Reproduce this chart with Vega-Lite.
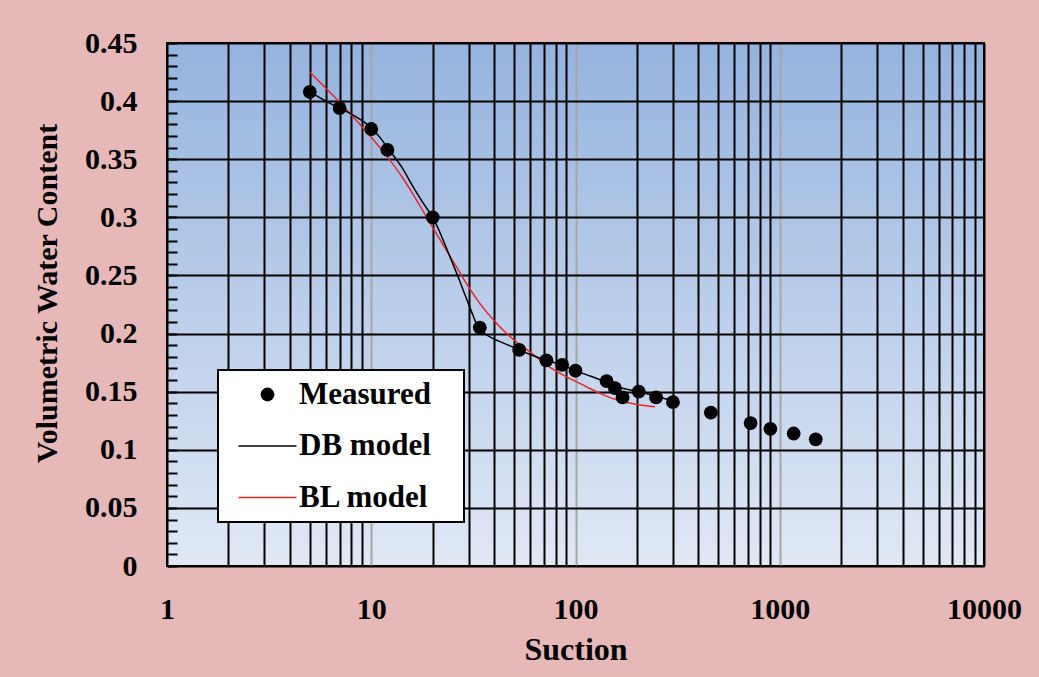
{
  "$schema": "https://vega.github.io/schema/vega-lite/v6.json",
  "width": 817,
  "height": 523,
  "autosize": "none",
  "padding": {"left": 167, "top": 43, "right": 55, "bottom": 111},
  "background": "#e6b8b7",
  "view": {
    "fill": {"gradient": "linear", "x1": 0, "y1": 0, "x2": 0, "y2": 1, "stops": [{"offset": 0, "color": "#95b3de"}, {"offset": 1, "color": "#e0e8f5"}]},
    "stroke": "black",
    "strokeWidth": 2
  },
  "config": {
    "font": "Liberation Serif",
    "axis": {"labelFont": "Liberation Serif", "titleFont": "Liberation Serif", "labelFontWeight": "bold", "titleFontWeight": "bold", "labelColor": "black", "titleColor": "black"}
  },
  "data": {"values": [
    {"series": "Measured", "x": 5, "y": 0.408},
    {"series": "Measured", "x": 7, "y": 0.394},
    {"series": "Measured", "x": 10, "y": 0.376},
    {"series": "Measured", "x": 12, "y": 0.358},
    {"series": "Measured", "x": 20, "y": 0.300},
    {"series": "Measured", "x": 34, "y": 0.205},
    {"series": "Measured", "x": 53, "y": 0.186},
    {"series": "Measured", "x": 72, "y": 0.177},
    {"series": "Measured", "x": 86, "y": 0.173},
    {"series": "Measured", "x": 100, "y": 0.168},
    {"series": "Measured", "x": 142, "y": 0.159},
    {"series": "Measured", "x": 156, "y": 0.153},
    {"series": "Measured", "x": 170, "y": 0.145},
    {"series": "Measured", "x": 204, "y": 0.150},
    {"series": "Measured", "x": 248, "y": 0.145},
    {"series": "Measured", "x": 300, "y": 0.141},
    {"series": "Measured", "x": 460, "y": 0.132},
    {"series": "Measured", "x": 720, "y": 0.123},
    {"series": "Measured", "x": 900, "y": 0.118},
    {"series": "Measured", "x": 1170, "y": 0.114},
    {"series": "Measured", "x": 1500, "y": 0.109},
    {"series": "DB model", "x": 5, "y": 0.408},
    {"series": "DB model", "x": 6, "y": 0.400},
    {"series": "DB model", "x": 7, "y": 0.394},
    {"series": "DB model", "x": 8.5, "y": 0.386},
    {"series": "DB model", "x": 10, "y": 0.377},
    {"series": "DB model", "x": 11, "y": 0.369},
    {"series": "DB model", "x": 12, "y": 0.360},
    {"series": "DB model", "x": 14, "y": 0.344},
    {"series": "DB model", "x": 16.2, "y": 0.325},
    {"series": "DB model", "x": 18, "y": 0.312},
    {"series": "DB model", "x": 20, "y": 0.300},
    {"series": "DB model", "x": 24.3, "y": 0.266},
    {"series": "DB model", "x": 27, "y": 0.246},
    {"series": "DB model", "x": 29.4, "y": 0.229},
    {"series": "DB model", "x": 31.1, "y": 0.218},
    {"series": "DB model", "x": 33, "y": 0.207},
    {"series": "DB model", "x": 36, "y": 0.200},
    {"series": "DB model", "x": 42.7, "y": 0.193},
    {"series": "DB model", "x": 49.3, "y": 0.1885},
    {"series": "DB model", "x": 53, "y": 0.186},
    {"series": "DB model", "x": 60, "y": 0.182},
    {"series": "DB model", "x": 72, "y": 0.177},
    {"series": "DB model", "x": 86, "y": 0.173},
    {"series": "DB model", "x": 100, "y": 0.168},
    {"series": "DB model", "x": 120, "y": 0.163},
    {"series": "DB model", "x": 142, "y": 0.158},
    {"series": "DB model", "x": 170, "y": 0.153},
    {"series": "DB model", "x": 204, "y": 0.150},
    {"series": "DB model", "x": 250, "y": 0.146},
    {"series": "DB model", "x": 300, "y": 0.142},
    {"series": "BL model", "x": 5, "y": 0.425},
    {"series": "BL model", "x": 6, "y": 0.411},
    {"series": "BL model", "x": 7, "y": 0.399},
    {"series": "BL model", "x": 8, "y": 0.388},
    {"series": "BL model", "x": 9, "y": 0.378},
    {"series": "BL model", "x": 10, "y": 0.369},
    {"series": "BL model", "x": 12, "y": 0.352},
    {"series": "BL model", "x": 14, "y": 0.336},
    {"series": "BL model", "x": 16, "y": 0.320},
    {"series": "BL model", "x": 18.7, "y": 0.300},
    {"series": "BL model", "x": 22, "y": 0.279},
    {"series": "BL model", "x": 26, "y": 0.258},
    {"series": "BL model", "x": 30, "y": 0.240},
    {"series": "BL model", "x": 34, "y": 0.226},
    {"series": "BL model", "x": 40, "y": 0.211},
    {"series": "BL model", "x": 46, "y": 0.200},
    {"series": "BL model", "x": 52, "y": 0.192},
    {"series": "BL model", "x": 60, "y": 0.184},
    {"series": "BL model", "x": 75, "y": 0.171},
    {"series": "BL model", "x": 90, "y": 0.163},
    {"series": "BL model", "x": 108, "y": 0.156},
    {"series": "BL model", "x": 130, "y": 0.149},
    {"series": "BL model", "x": 159, "y": 0.143},
    {"series": "BL model", "x": 200, "y": 0.139},
    {"series": "BL model", "x": 245, "y": 0.137}
  ]},
  "encoding": {
    "x": {
      "field": "x", "type": "quantitative",
      "scale": {"type": "log", "domain": [1, 10000]},
      "axis": {
        "title": "Suction", "titleFontSize": 32, "titlePadding": 10,
        "values": [1,2,3,4,5,6,7,8,9,10,20,30,40,50,60,70,80,90,100,200,300,400,500,600,700,800,900,1000,2000,3000,4000,5000,6000,7000,8000,9000,10000],
        "labelExpr": "indexof([1,10,100,1000,10000], datum.value) >= 0 ? format(datum.value, 'd') : ''",
        "labelFontSize": 30, "labelPadding": 28, "labelOverlap": false, "labelFlush": false, "labelBound": false,
        "ticks": false, "domain": false,
        "grid": true, "gridWidth": 2, "gridOpacity": 1,
        "gridColor": {"condition": {"test": "datum.value == 10 || datum.value == 100 || datum.value == 1000", "value": "#a6a6a6"}, "value": "black"}
      }
    },
    "y": {
      "field": "y", "type": "quantitative",
      "scale": {"domain": [0, 0.45], "nice": false, "zero": false},
      "axis": {
        "title": "Volumetric Water Content", "titleFontSize": 30, "titlePadding": 22, "titleY": 250,
        "values": [0,0.01,0.02,0.03,0.04,0.05,0.06,0.07,0.08,0.09,0.1,0.11,0.12,0.13,0.14,0.15,0.16,0.17,0.18,0.19,0.2,0.21,0.22,0.23,0.24,0.25,0.26,0.27,0.28,0.29,0.3,0.31,0.32,0.33,0.34,0.35,0.36,0.37,0.38,0.39,0.4,0.41,0.42,0.43,0.44,0.45],
        "labelExpr": "abs(datum.value*20 - round(datum.value*20)) < 0.001 ? format(datum.value, '~g') : ''",
        "labelFontSize": 30, "labelPadding": 40, "labelOverlap": false, "labelFlush": false, "labelBound": false,
        "ticks": true, "tickSize": -10, "tickColor": "black", "tickWidth": 2,
        "domain": false,
        "grid": true, "gridWidth": 2, "gridOpacity": 1,
        "gridColor": {"condition": {"test": "abs(datum.value*20 - round(datum.value*20)) < 0.001", "value": "black"}, "value": "transparent"}
      }
    },
    "color": {
      "field": "series", "type": "nominal",
      "scale": {"domain": ["Measured", "DB model", "BL model"], "range": ["black", "black", "#e8262b"]},
      "legend": {
        "title": null, "orient": "none", "legendX": 51, "legendY": 327,
        "fillColor": "white", "strokeColor": "black", "padding": 9,
        "symbolSize": 2500, "symbolOffset": 25, "rowPadding": 19.5, "labelOffset": 16,
        "labelFont": "Liberation Serif", "labelFontWeight": "bold", "labelFontSize": 31, "labelColor": "black",
        "labelExpr": "datum.label + '\u2800'", "labelLimit": 400,
        "encode": {
          "legend": {"update": {"strokeWidth": {"value": 2}}},
          "symbols": {"update": {
            "shape": {"signal": "datum.value === 'Measured' ? 'circle' : 'M-1.16,0H1.16'"},
            "size": {"signal": "datum.value === 'Measured' ? 190 : 2500"},
            "fill": {"signal": "datum.value === 'Measured' ? 'black' : 'transparent'"},
            "stroke": {"signal": "datum.value === 'BL model' ? '#e8262b' : 'black'"},
            "strokeWidth": {"signal": "datum.value === 'Measured' ? 0 : 1.5"},
            "opacity": {"value": 1}
          }}
        }
      }
    }
  },
  "layer": [
    {
      "transform": [{"filter": "datum.series === 'BL model'"}],
      "mark": {"type": "line", "strokeWidth": 1.5, "interpolate": "monotone"}
    },
    {
      "transform": [{"filter": "datum.series === 'DB model'"}],
      "mark": {"type": "line", "strokeWidth": 1.5, "interpolate": "monotone"}
    },
    {
      "transform": [{"filter": "datum.series === 'Measured'"}],
      "mark": {"type": "point", "filled": true, "size": 190, "opacity": 1, "shape": "circle"}
    }
  ]
}
